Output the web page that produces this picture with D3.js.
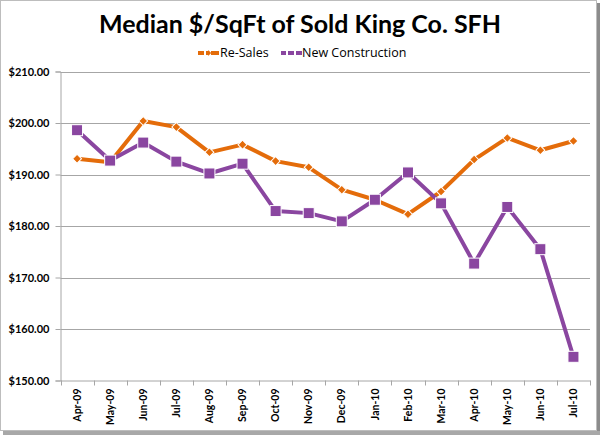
<!DOCTYPE html>
<html><head><meta charset="utf-8">
<script src="https://cdn.jsdelivr.net/npm/d3@7"></script>
<style>body{margin:0;background:#fff}svg{display:block}</style>
</head><body><svg id="c" width="600" height="435"></svg>
<script>
const categories = ["Apr-09","May-09","Jun-09","Jul-09","Aug-09","Sep-09","Oct-09","Nov-09","Dec-09","Jan-10","Feb-10","Mar-10","Apr-10","May-10","Jun-10","Jul-10"];
const reSales = [193.05,192.4,200.4,199.2,194.3,195.8,192.6,191.4,187.05,185.1,182.3,186.7,192.9,197.1,194.7,196.5];
const newConstruction = [198.6,192.7,196.2,192.5,190.2,192.1,182.9,182.5,180.9,185.1,190.4,184.4,172.7,183.7,175.5,154.6];
const yTicks = [150,160,170,180,190,200,210];
const seriesNames = ["Re-Sales","New Construction"];
const colors = ["#e46c0a","#8a46a0"];

const svg = d3.select("#c");
// frame
svg.append("rect").attr("x",0.5).attr("y",0.5).attr("width",596).attr("height",430).attr("fill","#fff").attr("stroke","#bdbdbd");
svg.append("rect").attr("x",597).attr("y",3).attr("width",3).attr("height",430).attr("fill","#8c8c8c");
svg.append("rect").attr("x",3).attr("y",431).attr("width",597).attr("height",4).attr("fill","#a8a8a8");

const m = {l:60.5, r:590, t:71.5, b:380.5};
const x = d3.scaleBand().domain(categories).range([m.l, m.r]);
const y = d3.scaleLinear().domain([150,210]).range([m.b, m.t]);

// gridlines
svg.append("g").selectAll("line").data(yTicks.slice(1)).join("line")
  .attr("x1",m.l).attr("x2",m.r).attr("y1",d=>Math.round(y(d))+0.5).attr("y2",d=>Math.round(y(d))+0.5)
  .attr("stroke","#a6a6a6").attr("stroke-width",1);

// y axis
const ya = svg.append("g").attr("transform",`translate(${m.l},0)`)
  .call(d3.axisLeft(y).tickValues(yTicks).tickFormat(d=>"$"+d3.format(".2f")(d)).tickSize(5).tickPadding(6));
ya.select(".domain").attr("stroke","#a6a6a6");
ya.selectAll(".tick line").attr("stroke","#a6a6a6");
ya.selectAll("text").attr("font-family","Lato, 'Open Sans', sans-serif").attr("font-weight","bold").attr("font-size","11px").attr("fill","#000");

// x axis
const xa = svg.append("g").attr("transform",`translate(0,${m.b})`)
  .call(d3.axisBottom(x).tickSize(0).tickPadding(0));
xa.select(".domain").attr("stroke","#a6a6a6");
xa.selectAll(".tick text").attr("transform","translate(0,8) rotate(-90)").attr("text-anchor","end").attr("dx",0).attr("dy","0.35em").attr("x",0).attr("y",0)
  .attr("font-family","Lato, 'Open Sans', sans-serif").attr("font-weight","bold").attr("font-size","10.5px").attr("fill","#000");
// boundary ticks
const bounds = categories.map(c=>x(c)).concat([x(categories[categories.length-1])+x.bandwidth()]);
svg.append("g").selectAll("line").data(bounds).join("line")
  .attr("x1",d=>Math.round(d)+0.5).attr("x2",d=>Math.round(d)+0.5).attr("y1",m.b).attr("y2",m.b+5).attr("stroke","#a6a6a6");

const cx = c => x(c)+x.bandwidth()/2;
const line = d3.line().x((d,i)=>cx(categories[i])).y(d=>y(d));

// Re-Sales
svg.append("path").datum(reSales).attr("d",line).attr("fill","none").attr("stroke",colors[0]).attr("stroke-width",4).attr("stroke-linejoin","round");
svg.append("g").selectAll("path").data(reSales).join("path")
  .attr("d",d3.symbol().type(d3.symbolSquare).size(40))
  .attr("transform",(d,i)=>`translate(${cx(categories[i])},${y(d)}) rotate(45)`)
  .attr("fill",colors[0]).attr("stroke","#fff").attr("stroke-width",1);

// New Construction
svg.append("path").datum(newConstruction).attr("d",line).attr("fill","none").attr("stroke",colors[1]).attr("stroke-width",4).attr("stroke-linejoin","round");
svg.append("g").selectAll("rect").data(newConstruction).join("rect")
  .attr("x",(d,i)=>cx(categories[i])-5.5).attr("y",d=>y(d)-5.5).attr("width",11).attr("height",11)
  .attr("fill",colors[1]).attr("stroke","#fff").attr("stroke-width",1);

// title
svg.append("text").attr("x",300).attr("y",33).attr("text-anchor","middle")
  .attr("font-family","Lato, sans-serif").attr("font-weight","bold").attr("font-size","25px").attr("fill","#000")
  .attr("textLength",402).attr("lengthAdjust","spacingAndGlyphs")
  .text("Median $/SqFt of Sold King Co. SFH");

// legend
const leg = svg.append("g").attr("transform","translate(0,57)");
const legX = [198, 281];
const textX = [220, 302];
leg.append("line").attr("x1",legX[0]).attr("x2",legX[0]+21).attr("y1",-4).attr("y2",-4).attr("stroke",colors[0]).attr("stroke-width",4).attr("stroke-dasharray","6,2,3,2,8");
leg.append("path").attr("d",d3.symbol().type(d3.symbolSquare).size(14)).attr("transform",`translate(${legX[0]+10.5},-4) rotate(45)`).attr("fill",colors[0]);
leg.append("line").attr("x1",legX[1]).attr("x2",legX[1]+21).attr("y1",-4).attr("y2",-4).attr("stroke",colors[1]).attr("stroke-width",4).attr("stroke-dasharray","5,2,6,2,6");
leg.selectAll("text.l").data(seriesNames).join("text").attr("class","l")
  .attr("x",(d,i)=>textX[i]).attr("y",0)
  .attr("font-family","'Open Sans', sans-serif").attr("font-size","12.5px").attr("fill","#000").text(d=>d);
</script></body></html>
